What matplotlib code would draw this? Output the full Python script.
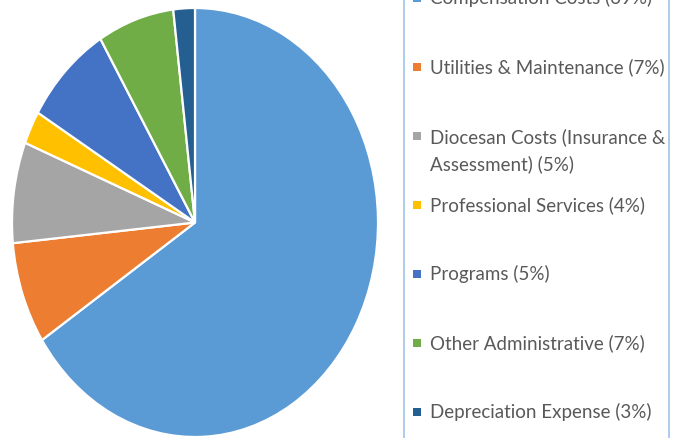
import matplotlib
matplotlib.use('Agg')
import matplotlib.pyplot as plt
from matplotlib.patches import Rectangle

# slice sizes, legend text as printed
labels = ['Compensation Costs (69%)', 'Utilities & Maintenance (7%)',
          'Diocesan Costs (Insurance &\nAssessment) (5%)', 'Professional Services (4%)',
          'Programs (5%)', 'Other Administrative (7%)', 'Depreciation Expense (3%)']
values = [65.8, 7.7, 7.6, 2.5, 7.8, 6.75, 1.9]
colors = ['#5B9BD5', '#ED7D31', '#A5A5A5', '#FFC000', '#4472C4', '#70AD47', '#255E91']

W, H = 683, 438
fig = plt.figure(figsize=(W / 100, H / 100), dpi=100)
ax = fig.add_axes([0, 0, 1, 1])

ax.pie(values, colors=colors, startangle=90, counterclock=False,
       wedgeprops=dict(edgecolor='white', linewidth=1.6))

# pie is stretched vertically in the original
cx, cy, rx, ry = 195, 222.5, 183, 214.5
ax.set_aspect('auto')
ax.set_xlim(-cx / rx, (W - cx) / rx)
ax.set_ylim((cy - H) / ry, cy / ry)
ax.axis('off')

# legend box (cut off top and bottom)
def px(x, y):
    return x / W, 1 - y / H

fig.patches.append(Rectangle(px(404, 460), 265 / W, 500 / H, transform=fig.transFigure,
                             fill=False, edgecolor='#9DC3E6', linewidth=1.2))

ys = [-2, 67, 151, 205, 274, 343, 412]
for lab, col, y in zip(labels, colors, ys):
    my = y if '\n' not in lab else 136
    fig.patches.append(Rectangle(px(413, my + 4), 8 / W, 8 / H, transform=fig.transFigure,
                                 facecolor=col, edgecolor='none'))
    fig.text(*px(430, y), lab, fontsize=13.5, family='Lato', color='#595959',
             va='center', ha='left', linespacing=1.6)

fig.savefig('out.png', dpi=100)
